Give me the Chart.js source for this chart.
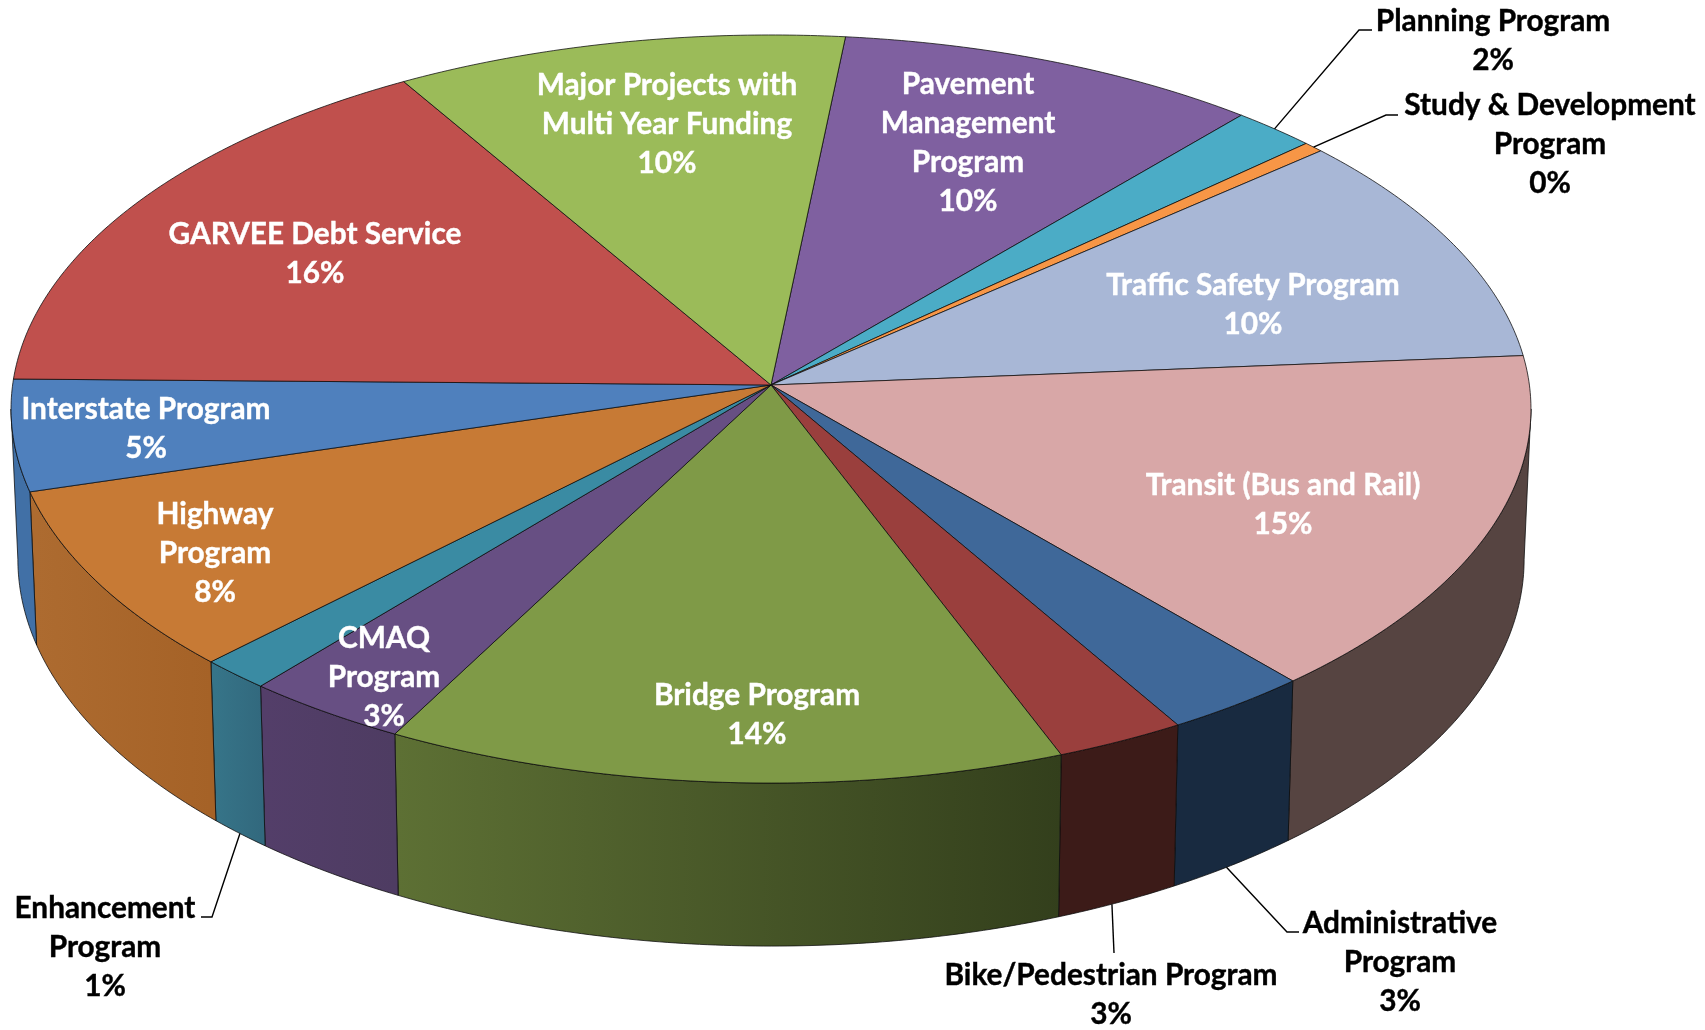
<!DOCTYPE html>
<html>
<head>
<meta charset="utf-8">
<title>Program funding</title>
<script src="https://cdn.jsdelivr.net/npm/chart.js@4"></script>
<style>
  html, body { margin: 0; padding: 0; background: #fff; overflow: hidden; }
  canvas { display: block; }
</style>
</head>
<body>
<canvas id="pie-chart" width="1705" height="1030"></canvas>
<script>
// Values in percent (clockwise, starting at Pavement)
const categories = [
  'Pavement Management Program', 'Planning Program', 'Study & Development Program',
  'Traffic Safety Program', 'Transit (Bus and Rail)', 'Administrative Program',
  'Bike/Pedestrian Program', 'Bridge Program', 'CMAQ Program', 'Enhancement Program',
  'Highway Program', 'Interstate Program', 'GARVEE Debt Service', 'Major Projects with Multi Year Funding'
];
const values = [9.6, 1.9, 0.46, 10.1, 14.9, 2.9, 2.6, 13.6, 3.3, 1.4, 8.0, 4.8, 16.2, 10.2];

// label wrapping, same order as categories
const labelLines = [
  ['Pavement', 'Management', 'Program'], ['Planning Program'], ['Study & Development', 'Program'],
  ['Traffic Safety Program'], ['Transit (Bus and Rail)'], ['Administrative', 'Program'],
  ['Bike/Pedestrian Program'], ['Bridge Program'], ['CMAQ', 'Program'], ['Enhancement', 'Program'],
  ['Highway', 'Program'], ['Interstate Program'], ['GARVEE Debt Service'], ['Major Projects with', 'Multi Year Funding']
];

const topColors = ['#7f60a0', '#4bacc6', '#f79646', '#a8b7d6', '#d8a7a7', '#3f6899', '#9a3f3d',
                   '#7f9a47', '#674f83', '#3a8ba3', '#c77a35', '#4f80bd', '#c0504d', '#9bbb59'];
// side wall shading, left to right
const wallColors = [
  ['#5f4878', '#5f4878'], ['#38819a', '#38819a'], ['#b97034', '#b97034'], ['#7e899f', '#7e899f'],
  ['#564441', '#564441'], ['#182a40', '#182a40'], ['#3c1b18', '#3c1b18'], ['#5d7034', '#333f1c'],
  ['#533e69', '#4e3c62'], ['#367488', '#32697e'], ['#ad6b30', '#a56227'], ['#4170a6', '#4170a6'],
  ['#904c4a', '#904c4a'], ['#74893f', '#74893f']
];

// first line centre of each label, then leader line points if it sits outside the pie
const labelSpots = [
  { x: 968, y: 84, color: '#fff' }, { x: 1493, y: 21, leader: [[1359, 30], [1372, 30]], edge: 'top' },
  { x: 1550, y: 105, leader: [[1386, 115], [1398, 115]], edge: 'top' }, { x: 1253, y: 285, color: '#fff' },
  { x: 1283, y: 485, color: '#fff' }, { x: 1400, y: 923, leader: [[1287, 932], [1299, 932]], edge: 'bottom', at: 0.56 },
  { x: 1111, y: 975, leader: [[1114, 953]], edge: 'bottom', at: 0.55 }, { x: 757, y: 695, color: '#fff' },
  { x: 384, y: 638, color: '#fff' }, { x: 105, y: 908, leader: [[212, 917], [201, 917]], edge: 'bottom' },
  { x: 215, y: 514, color: '#fff' }, { x: 146, y: 409, color: '#fff' },
  { x: 315, y: 234, color: '#fff' }, { x: 667, y: 85, color: '#fff' }
];

// the disc in perspective: apex, radii and foreshortening of the top face
const CX = 771, CY = 385, RX = 758.4, RY = 372.5, PERSP = 0.0642;

function projectTop(a) {
  const w = 1 - PERSP * Math.sin(a);
  return { x: CX + RX * Math.cos(a) / w, y: CY + RY * Math.sin(a) / w };
}

function projectBottom(a) {
  const p = projectTop(a);
  return { x: CX + (p.x - CX) * 0.991, y: p.y + 153 + (p.y - 491.5) * 0.0344 };
}

function arcPoints(fn, from, to) {
  const n = Math.max(2, Math.ceil(Math.abs(to - from) / 0.01));
  const pts = [];
  for (let i = 0; i <= n; i++) pts.push(fn(from + (to - from) * i / n));
  return pts;
}

function tracePath(ctx, pts) {
  ctx.beginPath();
  pts.forEach((p, i) => (i ? ctx.lineTo(p.x, p.y) : ctx.moveTo(p.x, p.y)));
  ctx.closePath();
}

const perspectivePie = {
  id: 'perspectivePie',
  beforeDatasetsDraw(chart) {
    const ctx = chart.ctx;
    const arcs = chart.getDatasetMeta(0).data;
    const front = Math.asin(PERSP);

    ctx.save();
    ctx.lineJoin = 'bevel';
    ctx.lineWidth = 0.9;
    ctx.strokeStyle = 'rgba(10,10,10,0.85)';

    // side walls first, only the part that faces the viewer
    arcs.forEach((arc, i) => {
      const from = Math.max(arc.startAngle, front);
      const to = Math.min(arc.endAngle, Math.PI - front);
      if (to <= from) return;
      const upper = arcPoints(projectTop, from, to);
      const lower = arcPoints(projectBottom, to, from);
      const grad = ctx.createLinearGradient(Math.min(upper[0].x, lower[0].x), 0, Math.max(upper[0].x, lower[0].x), 0);
      grad.addColorStop(0, wallColors[i][0]);
      grad.addColorStop(1, wallColors[i][1]);
      ctx.fillStyle = grad;
      tracePath(ctx, upper.concat(lower));
      ctx.fill();
      ctx.stroke();
    });

    // top face
    arcs.forEach((arc, i) => {
      const pts = arcPoints(projectTop, arc.startAngle, arc.endAngle);
      pts.push({ x: CX, y: CY });
      ctx.fillStyle = topColors[i];
      tracePath(ctx, pts);
      ctx.fill();
      ctx.stroke();
    });
    ctx.restore();
    return false; // skip the flat arcs, they are replaced by the ones above
  },
  afterDraw(chart) {
    const ctx = chart.ctx;
    const arcs = chart.getDatasetMeta(0).data;
    const total = values.reduce((a, b) => a + b, 0);

    ctx.save();
    arcs.forEach((arc, i) => {
      const spot = labelSpots[i];
      if (spot.leader) {
        const at = spot.at || 0.5;
        const mid = arc.startAngle + (arc.endAngle - arc.startAngle) * at;
        const start = spot.edge === 'top' ? projectTop(mid) : projectBottom(mid);
        ctx.beginPath();
        ctx.moveTo(start.x, start.y);
        spot.leader.forEach(p => ctx.lineTo(p[0], p[1]));
        ctx.strokeStyle = '#000';
        ctx.lineWidth = 1.4;
        ctx.stroke();
      }
      const lines = labelLines[i].concat(`${Math.round(values[i] / total * 100)}%`);
      ctx.font = '700 29.8px Lato';
      ctx.textAlign = 'center';
      ctx.textBaseline = 'middle';
      ctx.fillStyle = spot.color || '#000';
      ctx.strokeStyle = ctx.fillStyle;
      ctx.lineWidth = 0.4;
      lines.forEach((line, n) => {
        ctx.fillText(line, spot.x, spot.y + n * 39);
        ctx.strokeText(line, spot.x, spot.y + n * 39);
      });
    });
    ctx.restore();
  }
};

new Chart(document.getElementById('pie-chart'), {
  type: 'pie',
  data: {
    labels: categories,
    datasets: [{ data: values, backgroundColor: topColors, borderWidth: 0 }]
  },
  options: {
    responsive: false,
    animation: false,
    rotation: 6,
    plugins: { legend: { display: false }, tooltip: { enabled: false } }
  },
  plugins: [perspectivePie]
});
</script>
</body>
</html>
